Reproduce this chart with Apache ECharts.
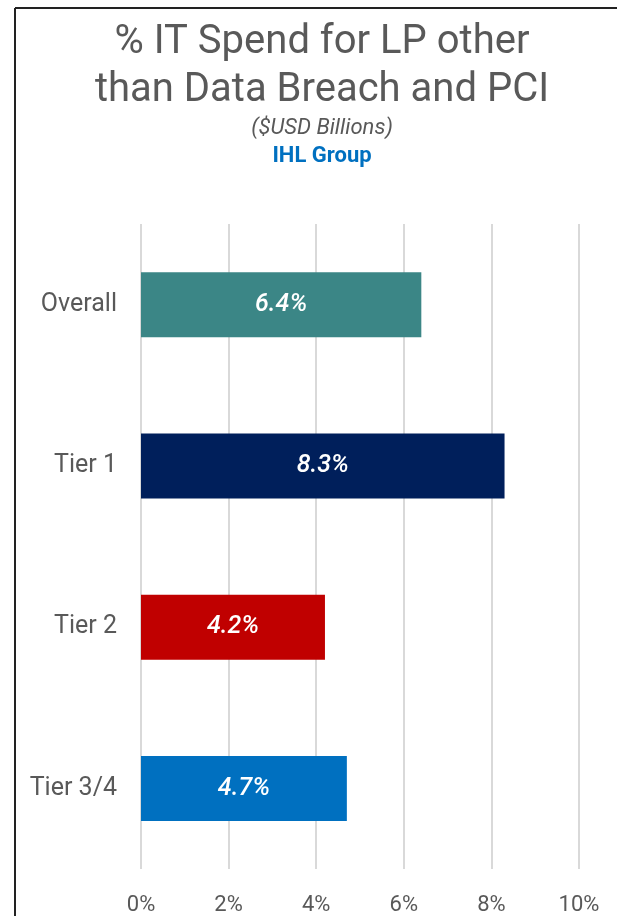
<!DOCTYPE html>
<html>
<head>
<meta charset="utf-8">
<script src="https://cdn.jsdelivr.net/npm/echarts@6/dist/echarts.min.js"></script>
<style>
html,body{margin:0;padding:0;background:#fff;}
#chart{width:617px;height:916px;}
</style>
</head>
<body>
<div id="chart"></div>
<script>
var categories = ['Overall', 'Tier 1', 'Tier 2', 'Tier 3/4'];
var values = [6.4, 8.3, 4.2, 4.7];
var barColors = ['#3B8686', '#001F5B', '#C00000', '#0070C0'];
var titleLines = ['% IT Spend for LP other', 'than Data Breach and PCI'];
var subtitleText = '($USD Billions)';
var sourceText = 'IHL Group';

var chart = echarts.init(document.getElementById('chart'), null, {renderer: 'canvas'});
chart.setOption({
  backgroundColor: '#ffffff',
  animation: false,
  graphic: [
    {type: 'line', shape: {x1: 15, y1: 8, x2: 617, y2: 8}, style: {stroke: '#222', lineWidth: 2}},
    {type: 'line', shape: {x1: 15, y1: 8, x2: 15, y2: 916}, style: {stroke: '#222', lineWidth: 2}},
    {type: 'text', x: 322, y: 43, style: {text: titleLines[0], font: '40px Roboto', fill: '#595959', align: 'center', verticalAlign: 'middle'}},
    {type: 'text', x: 322, y: 91, style: {text: titleLines[1], font: '40px Roboto', fill: '#595959', align: 'center', verticalAlign: 'middle'}},
    {type: 'text', x: 322, y: 128, style: {text: subtitleText, font: 'italic 22px Roboto', fill: '#595959', align: 'center', verticalAlign: 'middle'}},
    {type: 'text', x: 322, y: 156, style: {text: sourceText, font: 'bold 22px Roboto', fill: '#0070C0', align: 'center', verticalAlign: 'middle'}}
  ],
  grid: {left: 141, right: 38, top: 224, bottom: 47, containLabel: false},
  xAxis: {
    type: 'value', min: 0, max: 10, interval: 2,
    axisLine: {show: false}, axisTick: {show: false},
    splitLine: {show: true, lineStyle: {color: '#D9D9D9', width: 2}},
    axisLabel: {formatter: '{value}%', color: '#595959', fontSize: 22, fontFamily: 'Roboto', margin: 25}
  },
  yAxis: {
    type: 'category', data: categories, inverse: true,
    axisLine: {show: false}, axisTick: {show: false},
    axisLabel: {color: '#595959', fontSize: 25, fontFamily: 'Roboto', margin: 24}
  },
  series: [{
    type: 'bar',
    data: values.map(function (v, i) { return {value: v, itemStyle: {color: barColors[i]}}; }),
    barWidth: 65,
    label: {
      show: true, position: 'inside', color: '#fff', fontSize: 25, fontStyle: 'italic', fontWeight: 500, fontFamily: 'Roboto',
      formatter: function (p) { return p.value.toFixed(1) + '%'; }
    }
  }]
});
</script>
</body>
</html>
